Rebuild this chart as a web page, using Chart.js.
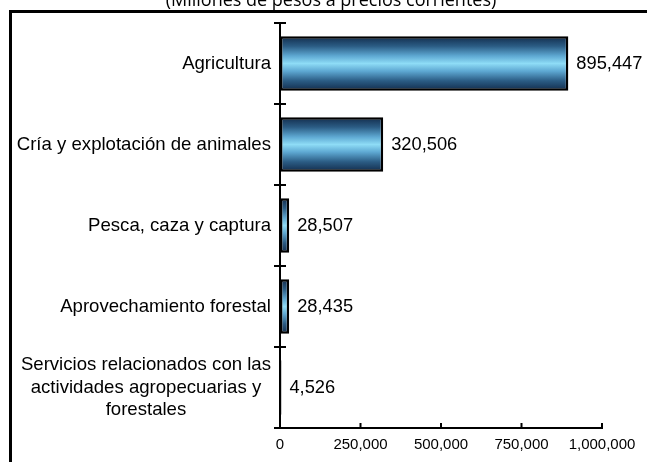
<!DOCTYPE html>
<html>
<head>
<meta charset="utf-8">
<script src="https://cdn.jsdelivr.net/npm/chart.js@4.4.0/dist/chart.umd.min.js"></script>
<style>
  body { margin: 0; background: #fff; }
  canvas { display: block; }
</style>
</head>
<body>
<canvas id="pibChart" width="647" height="462"></canvas>
<script>
const categories = [
    'Agricultura',
    'Cría y explotación de animales',
    'Pesca, caza y captura',
    'Aprovechamiento forestal',
    ['Servicios relacionados con las', 'actividades agropecuarias y', 'forestales']
];
const values = [895447, 320506, 28507, 28435, 4526];
const xTicks = [0, 250000, 500000, 750000, 1000000];
const subtitle = '(Millones de pesos a precios corrientes)';

const BAR_PCT = 0.67;
const fmt = v => v.toLocaleString('en-US');

function barGradient(context) {
    const chart = context.chart;
    const y = chart.scales.y;
    if (!chart.chartArea || !y) return '#3f7fae';
    const band = (y.bottom - y.top) / categories.length;
    const c = y.getPixelForValue(context.dataIndex);
    const half = band * BAR_PCT / 2;
    const g = chart.ctx.createLinearGradient(0, c - half, 0, c + half);
    g.addColorStop(0, '#122c4c');
    g.addColorStop(0.18, '#2b5c84');
    g.addColorStop(0.36, '#5ea8d2');
    g.addColorStop(0.5, '#8edcf6');
    g.addColorStop(0.64, '#5ea8d2');
    g.addColorStop(0.82, '#2b5c84');
    g.addColorStop(1, '#122c4c');
    return g;
}

const framePlugin = {
    id: 'frame',
    beforeDraw(chart) {
        const ctx = chart.ctx;
        ctx.save();
        ctx.fillStyle = '#fff';
        ctx.fillRect(0, 0, chart.width, chart.height);
        ctx.strokeStyle = '#000';
        ctx.lineWidth = 3;
        ctx.strokeRect(10.5, 11.5, 700, 500);
        ctx.fillStyle = '#000';
        ctx.font = '18px "Open Sans", sans-serif';
        ctx.textAlign = 'center';
        ctx.textBaseline = 'alphabetic';
        ctx.fillText(subtitle, 331, 6);
        ctx.restore();
    }
};

const axisPlugin = {
    id: 'axisExtras',
    afterDraw(chart) {
        const ctx = chart.ctx;
        const x = chart.scales.x, y = chart.scales.y;
        const left = x.getPixelForValue(0);
        const bottom = y.bottom;
        const band = (y.bottom - y.top) / categories.length;
        ctx.save();
        ctx.strokeStyle = '#000';
        ctx.lineWidth = 2;
        // category boundary ticks crossing the axis
        for (let i = 0; i <= categories.length; i++) {
            const py = Math.round(y.top + i * band);
            ctx.beginPath();
            ctx.moveTo(left - 6, py);
            ctx.lineTo(left + 6, py);
            ctx.stroke();
        }
        // value ticks pointing inward
        xTicks.forEach(v => {
            const px = x.getPixelForValue(v);
            ctx.beginPath();
            ctx.moveTo(px, bottom);
            ctx.lineTo(px, bottom - 5);
            ctx.stroke();
        });
        // category labels
        ctx.fillStyle = '#000';
        ctx.font = '18.6px "Liberation Sans", Arial, sans-serif';
        ctx.textBaseline = 'middle';
        const rightEdge = left - 9;
        categories.forEach((lab, i) => {
            const cy = y.getPixelForValue(i);
            if (Array.isArray(lab)) {
                const w = Math.max(...lab.map(t => ctx.measureText(t).width));
                const cx = rightEdge - w / 2;
                const lh = 22.5;
                ctx.textAlign = 'center';
                lab.forEach((t, k) => {
                    ctx.fillText(t, cx, cy + (k - (lab.length - 1) / 2) * lh);
                });
            } else {
                ctx.textAlign = 'right';
                ctx.fillText(lab, rightEdge, cy);
            }
        });
        // value labels
        ctx.font = '18.3px "Liberation Sans", Arial, sans-serif';
        ctx.textAlign = 'left';
        const meta = chart.getDatasetMeta(0);
        meta.data.forEach((bar, i) => {
            ctx.fillText(fmt(values[i]), bar.x + 8, bar.y);
        });
        ctx.restore();
    }
};

new Chart(document.getElementById('pibChart'), {
    type: 'bar',
    data: {
        labels: categories,
        datasets: [{
            data: values,
            backgroundColor: barGradient,
            borderColor: '#000',
            borderWidth: 2.5,
            borderSkipped: false,
            barPercentage: BAR_PCT,
            categoryPercentage: 1
        }]
    },
    options: {
        indexAxis: 'y',
        responsive: false,
        animation: false,
        layout: { padding: { left: 0, right: 45, top: 23, bottom: 0 } },
        plugins: {
            legend: { display: false },
            tooltip: { enabled: false }
        },
        scales: {
            x: {
                min: 0,
                max: 1000000,
                afterBuildTicks: s => { s.ticks = xTicks.map(v => ({ value: v })); },
                afterFit: s => { s.height = 34; },
                grid: { display: false, drawTicks: false },
                border: { display: true, color: '#000', width: 2 },
                ticks: {
                    color: '#000',
                    padding: 8,
                    maxRotation: 0,
                    font: { family: '"Liberation Sans", Arial, sans-serif', size: 15 },
                    callback: v => fmt(v)
                }
            },
            y: {
                afterFit: s => { s.width = 280; },
                grid: { display: false, drawTicks: false },
                border: { display: true, color: '#000', width: 2 },
                ticks: { display: false }
            }
        }
    },
    plugins: [framePlugin, axisPlugin]
});
</script>
</body>
</html>
